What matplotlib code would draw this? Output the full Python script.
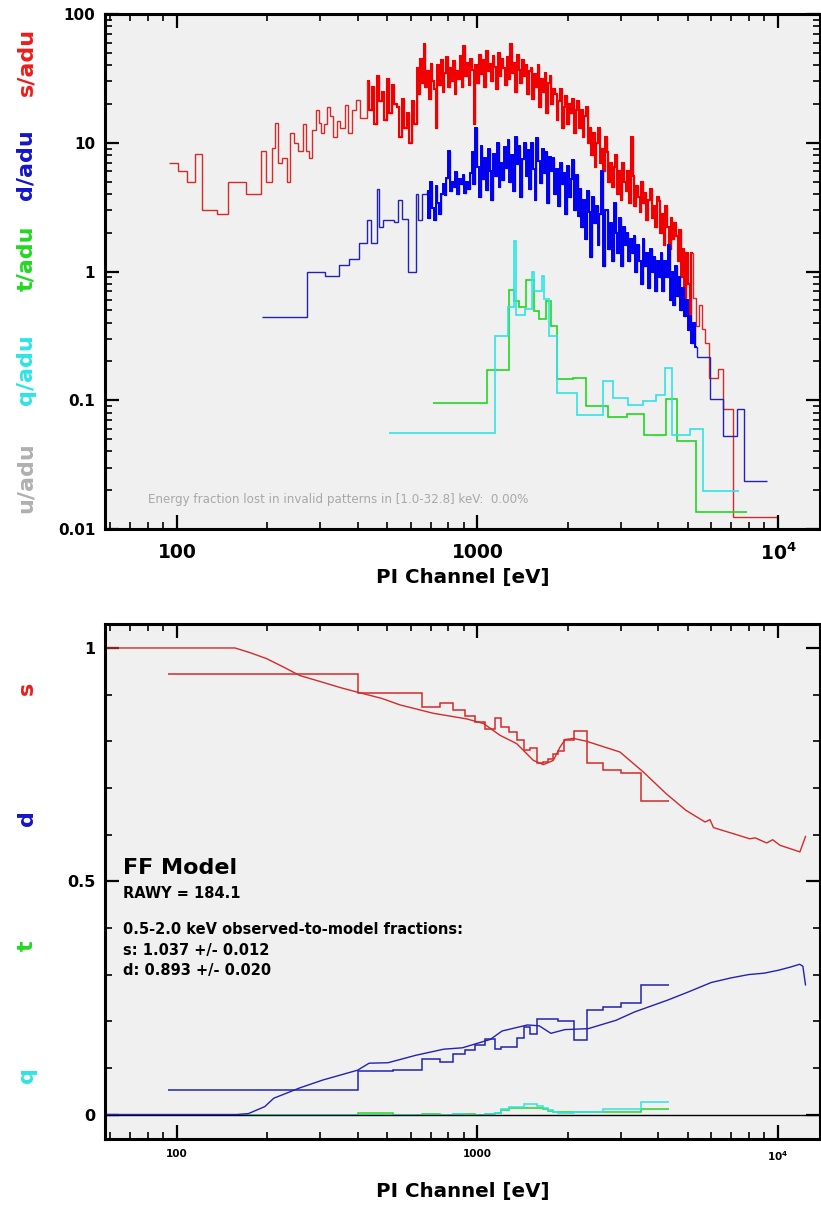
import numpy as np
import matplotlib.pyplot as plt
from matplotlib.ticker import FixedLocator, LogLocator, MultipleLocator, NullFormatter

plt.rcParams['font.family'] = ['DejaVu Sans']
plt.rcParams['mathtext.fontset'] = 'dejavusans'

RED = '#f00000'
RED_THIN = '#d42a2a'
BLUE = '#0000f0'
BLUE_THIN = '#2222b4'
GREEN = '#22d822'
CYAN = '#2ee4e4'
GRAY = '#b0b0b0'
BG = '#f0f0f0'

# ---------------- top panel: pattern spectra per adu ----------------
# single events, coarse low-energy bins
s_edges_low = [94.3, 101, 107.7, 114.8, 120.8, 135.5, 148.2, 169.4, 190, 197.5, 207.5,
               212.7, 217.3, 222.8, 231.8, 237.9, 245, 252, 263, 268, 275, 282, 291, 296,
               302, 309, 316, 323, 330, 340, 350, 362, 372, 383, 394, 408, 428]
s_vals_low = [7.0, 6.0, 5.0, 8.2, 3.0, 2.8, 5.0, 4.0, 8.6, 5.0, 9.1, 14.2, 7.0, 7.6, 5.0,
              11.9, 10, 8.6, 14, 8.6, 7.6, 12.5, 18, 14.2, 11.9, 14, 19, 16, 11, 14.8, 13,
              19.7, 12, 18, 21.5, 15.5]
# 428 - 628 eV
s_vals_mid = [30, 18, 27, 14, 33, 21, 25, 15, 31, 17, 28, 20,
              19, 11, 22, 13, 17, 10, 21, 14]
# 628 - 5220 eV, fine binning
s_vals_fine = [38, 24, 45, 29, 59, 27, 36, 22, 41, 30,
               26, 13, 40, 28, 44, 25, 35, 46, 27, 38, 30, 43, 24, 36,
               31, 47, 27, 56, 33, 42, 28, 45, 37, 14, 40,
               29, 48, 34, 44, 27, 52, 36, 41, 30, 47, 39, 26, 50, 33, 45, 38, 28,
               46, 31, 58, 35, 42, 25, 48, 37, 29, 44, 33, 40, 24, 36,
               38, 22, 34, 27, 40, 19, 31, 25, 35, 17, 29, 33, 20, 26,
               24, 15, 21, 26, 13, 19, 23, 14, 20, 17, 22, 12, 18, 21, 13,
               18, 11, 16, 19, 10, 13, 8, 12, 6.5, 10, 13, 7, 9, 6, 11,
               8.5, 5, 7, 4.5, 6.5, 8, 4, 6, 3.6, 7, 5, 4.2, 6, 3.4, 11,
               5.5, 3.2, 4.6, 3.8, 2.9, 5, 3.4, 4.1, 2.5, 3.6, 4.4, 2.6, 3.2, 2.2, 3.8,
               3.5, 2.0, 2.8, 1.6, 3.2, 2.2, 1.5, 2.6, 1.8, 2.4,
               1.9, 1.2, 2.1, 0.9, 1.5, 0.6, 1.4, 0.8, 0.45, 1.4]
s_edges_tail = [5220, 5350, 5480, 5600, 5720, 5900, 6330, 6580, 7100, 10000]
s_vals_tail = [0.62, 0.38, 0.55, 0.36, 0.28, 0.15, 0.174, 0.085, 0.0124]

# double events
d_edges_low = [192, 271.7, 311, 347, 374, 404, 428, 442, 462, 469, 486, 527, 545, 562,
               589, 623, 635, 655, 677]
d_vals_low = [0.44, 1.0, 0.92, 1.12, 1.25, 1.67, 2.53, 1.67, 4.4, 2.2, 2.53, 2.41, 3.6,
              2.55, 1.0, 4.0, 2.53, 4.0]
# 677 - 5360 eV, fine binning
d_vals_fine = [4.2, 2.6, 5.0, 3.1, 2.5, 4.6, 3.4, 2.8, 4.0,
               4.8, 3.9, 5.3, 8.6, 4.2, 5.0,
               4.5, 5.9, 4.0, 5.2, 4.8, 5.6, 4.1, 5.0, 4.4, 5.8,
               8.5, 4.8, 13, 6.5, 3.8, 9.4, 5.2, 7.6, 4.3, 9.0, 6.0, 3.6, 8.2, 5.5, 10,
               4.5, 7.0, 5.1, 9.2, 6.4,
               10.5, 5.0, 8.0, 4.2, 11, 6.8, 9.4, 3.8, 7.5, 10, 5.5, 8.8, 4.4, 9.9, 6.2,
               3.6, 10.8, 7.2, 4.9, 9.0, 5.8, 8.4, 3.4, 7.8, 6.0,
               7.6, 4.0, 6.2, 3.2, 7.0, 4.8, 5.8, 2.8, 6.6, 3.8, 5.2, 7.4, 3.0, 5.6, 2.7,
               4.4, 2.2, 3.6, 1.8, 4.2, 2.9, 1.3, 3.8, 2.4, 3.2, 1.6, 2.8, 6.0, 1.1, 3.0,
               3.0, 1.5, 2.4, 1.2, 3.4, 2.0, 1.4, 2.6, 1.1, 2.2, 1.6, 2.0, 1.2, 1.8, 1.4,
               1.9, 1.0, 1.6, 1.2, 0.8, 1.8, 1.1, 1.4, 0.75, 1.5, 1.0, 1.3, 0.7, 1.2, 0.9,
               1.4, 0.7, 1.2, 0.9, 1.6, 0.6, 1.0, 0.55, 1.1, 0.65,
               0.9, 0.5, 0.75, 0.45, 0.6, 0.35, 0.45, 0.28, 0.4, 0.26]
d_edges_tail = [5360, 5940, 6580, 7290, 7710, 9170]
d_vals_tail = [0.215, 0.103, 0.053, 0.085, 0.0237]

# triple events
t_edges = [713, 1074, 1276, 1322, 1377, 1449, 1541, 1598, 1691, 1753, 1836, 2086, 2298,
           2713, 3152, 3590, 4240, 4600, 5320, 7870]
t_vals = [0.095, 0.171, 0.724, 0.59, 0.53, 0.86, 0.49, 0.43, 0.59, 0.38, 0.146, 0.150,
          0.090, 0.074, 0.078, 0.0536, 0.103, 0.048, 0.0136]

# quadruple events
q_edges = [509, 1143, 1260, 1326, 1343, 1439, 1514, 1545, 1643, 1668, 1729, 1836, 2138,
           2610, 2833, 3177, 3565, 3930, 4210, 4440, 5090, 5640, 7430]
q_vals = [0.056, 0.316, 0.53, 1.72, 0.456, 0.507, 1.0, 0.70, 0.92, 0.61, 0.316, 0.113,
          0.0766, 0.140, 0.105, 0.0915, 0.099, 0.109, 0.179, 0.0536, 0.0596, 0.0196]

# ---------------- bottom panel: pattern fractions vs FF model ----------------
ff_edges = [93.6, 400, 525, 652, 750, 830, 908, 981, 1059, 1144, 1198, 1276, 1350, 1428,
            1495, 1582, 1657, 1721, 1788, 1858, 1946, 2100, 2308, 2622, 2995, 3490, 4345]
s_frac = [0.944, 0.903, 0.903, 0.873, 0.882, 0.868, 0.854, 0.841, 0.827, 0.850, 0.830,
          0.820, 0.802, 0.781, 0.785, 0.753, 0.755, 0.761, 0.773, 0.779, 0.803, 0.823,
          0.754, 0.739, 0.733, 0.673]
d_frac = [0.052, 0.093, 0.095, 0.120, 0.112, 0.129, 0.138, 0.149, 0.161, 0.140, 0.145,
          0.145, 0.165, 0.188, 0.172, 0.204, 0.204, 0.204, 0.204, 0.201, 0.201, 0.160,
          0.225, 0.231, 0.238, 0.277]
t_frac = [0.0, 0.003, 0.0, 0.002, 0.0, 0.002, 0.001, 0.0, 0.002, 0.004, 0.010, 0.014,
          0.014, 0.015, 0.014, 0.013, 0.011, 0.008, 0.006, 0.005, 0.005, 0.005, 0.005,
          0.005, 0.006, 0.012]
q_frac = [0.0, 0.0, 0.0, 0.0, 0.0, 0.001, 0.0, 0.0, 0.001, 0.004, 0.012, 0.016, 0.016,
          0.022, 0.023, 0.019, 0.014, 0.009, 0.006, 0.004, 0.004, 0.006, 0.006, 0.012,
          0.012, 0.027]

s_model_e = [50, 156, 175, 199, 228, 256, 300, 350, 400, 480, 552, 713, 920, 1048, 1187,
             1350, 1535, 1657, 1788, 1884, 1960, 2090, 2308, 2979, 3566, 4240, 4940, 5720,
             5940, 6100, 7100, 8050, 8400, 9170, 9600, 10160, 11830, 12350]
s_model = [1.0, 1.0, 0.99, 0.977, 0.958, 0.941, 0.928, 0.915, 0.905, 0.892, 0.878, 0.860,
           0.848, 0.838, 0.813, 0.795, 0.759, 0.750, 0.759, 0.788, 0.804, 0.806, 0.800,
           0.777, 0.734, 0.688, 0.652, 0.627, 0.632, 0.615, 0.602, 0.591, 0.593, 0.582,
           0.589, 0.577, 0.563, 0.596]
d_model_e = [50, 158, 173, 196, 210, 230, 256, 306, 399, 436, 504, 624, 772, 891, 1104,
             1207, 1469, 1606, 1755, 1953, 2335, 2893, 3336, 4286, 5000, 6000, 7000, 8000,
             9000, 10000, 11000, 11800, 12100, 12350]
d_model = [0, 0, 0.002, 0.017, 0.035, 0.045, 0.057, 0.074, 0.095, 0.110, 0.111, 0.127,
           0.140, 0.143, 0.161, 0.179, 0.192, 0.190, 0.174, 0.182, 0.184, 0.202, 0.220,
           0.245, 0.262, 0.283, 0.293, 0.300, 0.303, 0.309, 0.316, 0.322, 0.318, 0.278]

x_ticks = [100, 1000, 10000]
x_ticklabels = ['100', '1000', r'$\mathbf{10^4}$']
y_ticks_top = [0.01, 0.1, 1, 10, 100]
y_ticklabels_top = ['0.01', '0.1', '1', '10', '100']
y_ticks_bot = [0, 0.5, 1]
y_ticklabels_bot = ['0', '0.5', '1']

XLIM = (57.6, 13800)

# bin edges of the finely binned sections
s_edges_rest = (list(np.geomspace(428, 628, len(s_vals_mid) + 1))
                + list(np.geomspace(628, 5220, len(s_vals_fine) + 1)[1:])
                + s_edges_tail[1:])
s_vals_rest = s_vals_mid + s_vals_fine + s_vals_tail
s_edges = s_edges_low + s_edges_rest[1:]
s_vals = s_vals_low + s_vals_rest

d_edges_rest = (list(np.geomspace(677, 5360, len(d_vals_fine) + 1))
                + d_edges_tail[1:])
d_vals_rest = d_vals_fine + d_vals_tail
d_edges = d_edges_low + d_edges_rest[1:]
d_vals = d_vals_low + d_vals_rest


def style_axes(ax):
    ax.set_facecolor(BG)
    ax.set_xscale('log')
    ax.set_xlim(*XLIM)
    for sp in ax.spines.values():
        sp.set_linewidth(2.2)
    ax.tick_params(which='major', direction='in', length=10, width=1.6,
                   top=True, right=True)
    ax.tick_params(which='minor', direction='in', length=5, width=1.2,
                   top=True, right=True)
    ax.xaxis.set_major_locator(FixedLocator(x_ticks))
    ax.xaxis.set_minor_locator(LogLocator(base=10, subs=np.arange(2, 10)))
    ax.xaxis.set_minor_formatter(NullFormatter())


fig = plt.figure(figsize=(8.21, 12.09), dpi=100)
W, H = 821.0, 1209.0

# top panel
ax1 = fig.add_axes([105 / W, 1 - 529 / H, 715 / W, 515 / H])
style_axes(ax1)
ax1.set_yscale('log')
ax1.set_ylim(0.01, 100)
ax1.yaxis.set_major_locator(FixedLocator(y_ticks_top))
ax1.yaxis.set_minor_locator(LogLocator(base=10, subs=np.arange(2, 10)))
ax1.yaxis.set_minor_formatter(NullFormatter())
ax1.set_yticklabels(y_ticklabels_top, fontsize=11, fontweight='bold')
ax1.set_xticklabels(x_ticklabels, fontsize=13.5, fontweight='bold')
ax1.tick_params(axis='y', which='major', pad=7)
ax1.tick_params(axis='x', which='major', pad=10)

# thin outline for the whole spectrum, heavier line where the bins get dense
ax1.stairs(s_vals, s_edges, baseline=None, color=RED_THIN, lw=1.0)
ax1.stairs(s_vals_rest[:-len(s_vals_tail)], s_edges_rest[:-len(s_vals_tail)],
           baseline=None, color=RED, lw=1.5)
ax1.stairs(d_vals, d_edges, baseline=None, color=BLUE_THIN, lw=1.0)
ax1.stairs(d_vals_rest[:-len(d_vals_tail)], d_edges_rest[:-len(d_vals_tail)],
           baseline=None, color=BLUE, lw=1.4)
ax1.stairs(t_vals, t_edges, baseline=None, color=GREEN, lw=1.2)
ax1.stairs(q_vals, q_edges, baseline=None, color=CYAN, lw=1.2)

ax1.text((148 - 105) / 715, (529 - 500) / 515,
         'Energy fraction lost in invalid patterns in [1.0-32.8] keV:  0.00%',
         transform=ax1.transAxes, color='#a8a8a8', fontsize=8.6, va='center', ha='left')

ax1.set_xlabel('PI Channel [eV]', fontsize=14.3, fontweight='bold')
ax1.xaxis.set_label_coords(0.5, (529 - 577) / 515)
ax1.xaxis.label.set_va('center')

for lab, col, yc in [('s/adu', '#ee1c1c', 62), ('d/adu', '#1414cc', 165),
                     ('t/adu', GREEN, 258), ('q/adu', CYAN, 370), ('u/adu', GRAY, 478)]:
    fig.text(26 / W, 1 - yc / H, lab, color=col, rotation=90, fontsize=16,
             fontweight='bold', ha='center', va='center')

# bottom panel
ax2 = fig.add_axes([105 / W, 1 - 1139 / H, 715 / W, 515 / H])
style_axes(ax2)
ax2.set_ylim(-0.0525, 1.0514)
ax2.yaxis.set_major_locator(FixedLocator(y_ticks_bot))
ax2.yaxis.set_minor_locator(MultipleLocator(0.1))
ax2.set_yticklabels(y_ticklabels_bot, fontsize=11.5, fontweight='bold')
ax2.set_xticklabels(x_ticklabels, fontsize=7.5, fontweight='bold')
ax2.tick_params(axis='y', which='major', pad=7)
ax2.tick_params(axis='x', which='major', pad=7)

ax2.axhline(0, color='black', lw=1.0)
ax2.stairs(t_frac, ff_edges, baseline=None, color=GREEN, lw=1.1)
ax2.stairs(q_frac, ff_edges, baseline=None, color=CYAN, lw=1.1)
ax2.plot(s_model_e, s_model, color=RED_THIN, lw=1.0)
ax2.plot(d_model_e, d_model, color=BLUE_THIN, lw=1.0)
ax2.stairs(s_frac, ff_edges, baseline=None, color=RED_THIN, lw=1.1)
ax2.stairs(d_frac, ff_edges, baseline=None, color=BLUE_THIN, lw=1.1)

ax2.set_xlabel('PI Channel [eV]', fontsize=14.3, fontweight='bold')
ax2.xaxis.set_label_coords(0.5, (1139 - 1192) / 515)
ax2.xaxis.label.set_va('center')

tx = (123 - 105) / 715
def ypos(py):
    return (1139 - py) / 515

ax2.text(tx, ypos(868), 'FF Model', transform=ax2.transAxes, fontsize=16,
         fontweight='bold', va='center')
ax2.text(tx, ypos(893), 'RAWY = 184.1', transform=ax2.transAxes, fontsize=10.5,
         fontweight='bold', va='center')
ax2.text(tx, ypos(929), '0.5-2.0 keV observed-to-model fractions:', transform=ax2.transAxes,
         fontsize=10.5, fontweight='bold', va='center')
ax2.text(tx, ypos(950), 's: 1.037 +/- 0.012', transform=ax2.transAxes, fontsize=10.5,
         fontweight='bold', va='center')
ax2.text(tx, ypos(970), 'd: 0.893 +/- 0.020', transform=ax2.transAxes, fontsize=10.5,
         fontweight='bold', va='center')

for lab, col, yc in [('s', '#ee1c1c', 688), ('d', '#1414cc', 818), ('t', GREEN, 946),
                     ('q', CYAN, 1075)]:
    fig.text(27 / W, 1 - yc / H, lab, color=col, rotation=90, fontsize=16,
             fontweight='bold', ha='center', va='center')

fig.savefig('out.png', dpi=100, facecolor='white')
